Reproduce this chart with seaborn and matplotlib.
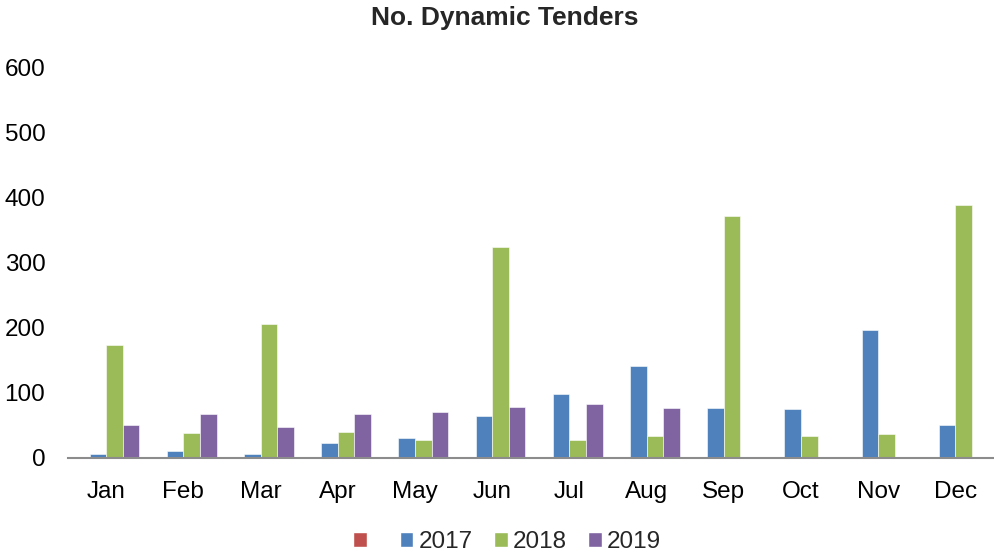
import matplotlib.pyplot as plt
import pandas as pd
import seaborn as sns
from matplotlib.patches import Patch

# Data
months = ['Jan', 'Feb', 'Mar', 'Apr', 'May', 'Jun', 'Jul', 'Aug', 'Sep', 'Oct', 'Nov', 'Dec']
series_blank = [0, 0, 0, 0, 0, 0, 0, 0, 0, 0, 0, 0]
series_2017 = [6, 10, 6, 23, 30, 64, 98, 141, 77, 75, 197, 51]
series_2018 = [174, 38, 206, 40, 28, 325, 28, 34, 372, 34, 36, 389]
series_2019 = [51, 68, 47, 68, 71, 79, 83, 77, 0, 0, 0, 0]
years = [' ', '2017', '2018', '2019']
colors = ['#C0504D', '#4F81BD', '#9BBB59', '#8064A2']

df = pd.DataFrame({
    'Month': months * 4,
    'Year': [y for y in years for _ in months],
    'Count': series_blank + series_2017 + series_2018 + series_2019,
})

sns.set_style('white')
plt.rcParams['font.family'] = ['Liberation Sans', 'DejaVu Sans']

fig = plt.figure(figsize=(9.94, 5.55), dpi=100)
ax = fig.add_axes([0.068, 0.175, 0.932, 0.7025])

sns.barplot(data=df, x='Month', y='Count', hue='Year', order=months,
            hue_order=years, palette=colors, width=0.86, saturation=1,
            edgecolor='white', linewidth=0.4, ax=ax, legend=False)

ax.set_ylim(0, 600)
ax.set_xlim(-0.5, 11.5)
ax.set_yticks(range(0, 601, 100))
ax.set_xlabel('')
ax.set_ylabel('')
ax.tick_params(axis='y', length=0, pad=16, labelsize=17.5, labelcolor='black')
ax.tick_params(axis='x', length=0, pad=17, labelsize=17.5, labelcolor='black')
for side in ['top', 'right', 'left']:
    ax.spines[side].set_visible(False)
ax.spines['bottom'].set_color('#8c8c8c')
ax.spines['bottom'].set_linewidth(1.5)

fig.text(0.508, 1 - 18 / 555, 'No. Dynamic Tenders', ha='center', va='center',
         fontsize=19, fontweight='bold')

handles = [Patch(facecolor=c) for c in colors]
fig.legend(handles, years, loc='center', bbox_to_anchor=(0.51, 1 - 542 / 555),
           ncol=4, frameon=False, fontsize=17.5, handlelength=0.55, handleheight=0.55,
           handletextpad=0.2, columnspacing=0.9, borderpad=0)

fig.savefig('out.png', dpi=100)
